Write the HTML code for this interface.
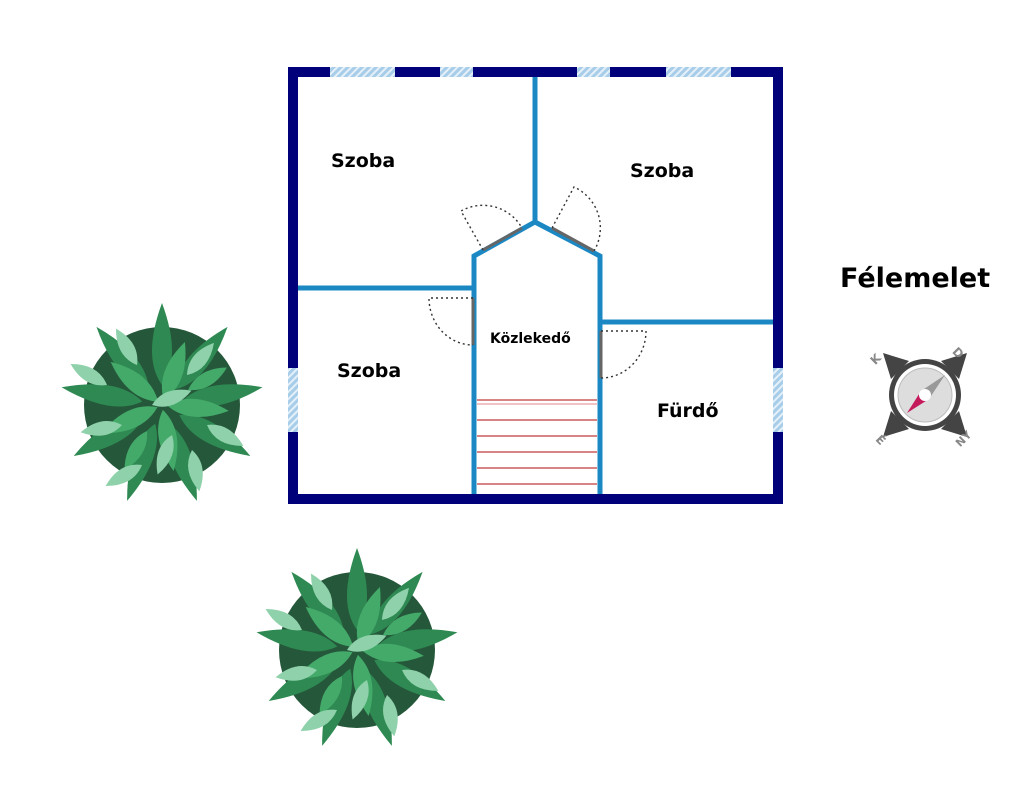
<!DOCTYPE html>
<html><head><meta charset="utf-8"><style>
html,body{margin:0;padding:0;background:#fff}
svg{display:block}
text{font-family:"DejaVu Sans","Liberation Sans",sans-serif;font-weight:bold;fill:#000}
</style></head><body>
<svg width="1024" height="797" viewBox="0 0 1024 797" xmlns="http://www.w3.org/2000/svg">
<defs>
<pattern id="h" width="5" height="5" patternUnits="userSpaceOnUse" patternTransform="rotate(45)">
<rect width="5" height="5" fill="#a8cde8"/><rect width="2" height="5" fill="#e4f0fa"/>
</pattern>
</defs>

<rect x="293" y="72" width="485" height="427" fill="none" stroke="#00007a" stroke-width="10"/>
<rect x="330" y="67" width="65" height="10" fill="url(#h)"/>
<rect x="440" y="67" width="33" height="10" fill="url(#h)"/>
<rect x="577" y="67" width="33" height="10" fill="url(#h)"/>
<rect x="666" y="67" width="65" height="10" fill="url(#h)"/>
<rect x="288" y="368" width="10" height="64" fill="url(#h)"/>
<rect x="773" y="368" width="10" height="64" fill="url(#h)"/>

<g stroke="#c0393b" stroke-width="1.2">
<line x1="477" y1="400" x2="597" y2="400"/><line x1="477" y1="404" x2="597" y2="404" stroke="#e8a0a0"/>
<line x1="477" y1="420" x2="597" y2="420"/><line x1="477" y1="436" x2="597" y2="436"/>
<line x1="477" y1="452" x2="597" y2="452"/><line x1="477" y1="468" x2="597" y2="468"/>
<line x1="477" y1="484" x2="597" y2="484"/>
</g>

<g stroke="#1b88c4" stroke-width="5" fill="none">
<line x1="535" y1="77" x2="535" y2="222"/>
<polyline points="474,494 474,256 535,222 600,256 600,494"/>
<line x1="298" y1="288" x2="474" y2="288"/>
<line x1="600" y1="322" x2="773" y2="322"/>
</g>

<g stroke="#666" stroke-width="3">
<line x1="483" y1="250" x2="522" y2="228"/>
<line x1="552" y1="228" x2="594" y2="251"/>
<line x1="473" y1="298" x2="473" y2="345"/>
<line x1="601" y1="331" x2="601" y2="378"/>
</g>
<g stroke="#333" stroke-width="1.4" fill="none" stroke-dasharray="2,3">
<path d="M483,250 L461,211 A45,45 0 0 1 522,228"/>
<path d="M552,228 L574,187 A45,45 0 0 1 594,251"/>
<path d="M473,298 L429,298 A44,47 0 0 0 473,345"/>
<path d="M601,331 L646,331 A45,47 0 0 1 601,378"/>
</g>

<text x="331" y="167" font-size="19">Szoba</text>
<text x="630" y="177" font-size="19">Szoba</text>
<text x="337" y="377" font-size="19">Szoba</text>
<text x="657" y="417" font-size="19">Fürdő</text>
<text x="490" y="343" font-size="14">Közlekedő</text>
<text x="840" y="287" font-size="27">Félemelet</text>

<g transform="translate(925,395)">
<g fill="#444">
<path d="M-42,-42 L-16,-34 L-34,-16Z"/>
<path d="M42,-42 L34,-16 L16,-34Z"/>
<path d="M42,42 L16,34 L34,16Z"/>
<path d="M-42,42 L-34,16 L-16,34Z"/>
</g>
<circle r="36" fill="#444"/>
<circle r="31" fill="#fff"/>
<circle r="27" fill="#ddd" stroke="#bbb" stroke-width="1"/>
<polygon points="20,-20 5,-5 -5,5" fill="#999" transform="rotate(0)"/>
<polygon points="20,-20 -4,-4 4,4" fill="#999"/>
<polygon points="-18,18 -4,-4 4,4" fill="#c4195a"/>
<circle r="6" fill="#fff"/>
<text x="-54" y="-32" font-size="12" style="fill:#888" transform="rotate(-45,-49,-36)">K</text>
<text x="28" y="-38" font-size="12" style="fill:#888" transform="rotate(45,33,-42)">D</text>
<text x="30" y="48" font-size="11" style="fill:#888" transform="rotate(-45,38,44)">NY</text>
<text x="-48" y="50" font-size="12" style="fill:#888" transform="rotate(45,-43,45)">É</text>
</g>

<g id="t1" transform="translate(162,405)">
<circle r="78" fill="#25583a"/>
<g fill="#2e8a52">
<path transform="rotate(0) translate(0,-20)" d="M0,0 Q-20,-28 0,-82 Q20,-28 0,0Z"/>
<path transform="rotate(40) translate(0,-20)" d="M0,0 Q-20,-28 0,-82 Q20,-28 0,0Z"/>
<path transform="rotate(80) translate(0,-20)" d="M0,0 Q-20,-28 0,-82 Q20,-28 0,0Z"/>
<path transform="rotate(120) translate(0,-20)" d="M0,0 Q-20,-28 0,-82 Q20,-28 0,0Z"/>
<path transform="rotate(160) translate(0,-20)" d="M0,0 Q-20,-28 0,-82 Q20,-28 0,0Z"/>
<path transform="rotate(200) translate(0,-20)" d="M0,0 Q-20,-28 0,-82 Q20,-28 0,0Z"/>
<path transform="rotate(240) translate(0,-20)" d="M0,0 Q-20,-28 0,-82 Q20,-28 0,0Z"/>
<path transform="rotate(280) translate(0,-20)" d="M0,0 Q-20,-28 0,-82 Q20,-28 0,0Z"/>
<path transform="rotate(320) translate(0,-20)" d="M0,0 Q-20,-28 0,-82 Q20,-28 0,0Z"/>
</g>
<g fill="#44aa6a">
<path transform="rotate(20) translate(0,-5)" d="M0,0 Q-18,-25 0,-62 Q18,-25 0,0Z"/>
<path transform="rotate(95) translate(0,-5)" d="M0,0 Q-18,-25 0,-62 Q18,-25 0,0Z"/>
<path transform="rotate(170) translate(0,-5)" d="M0,0 Q-18,-25 0,-62 Q18,-25 0,0Z"/>
<path transform="rotate(245) translate(0,-5)" d="M0,0 Q-18,-25 0,-62 Q18,-25 0,0Z"/>
<path transform="rotate(310) translate(0,-5)" d="M0,0 Q-18,-25 0,-62 Q18,-25 0,0Z"/>
<path transform="rotate(60) translate(0,-30)" d="M0,0 Q-14,-20 0,-45 Q14,-20 0,0Z"/>
<path transform="rotate(210) translate(0,-30)" d="M0,0 Q-14,-20 0,-45 Q14,-20 0,0Z"/>
</g>
<g fill="#8fd1aa">
<path transform="translate(-25,-40) rotate(-30)" d="M0,0 Q-14,-18 0,-42 Q14,-18 0,0Z"/>
<path transform="translate(25,-30) rotate(40)" d="M0,0 Q-14,-18 0,-42 Q14,-18 0,0Z"/>
<path transform="translate(-40,20) rotate(-100)" d="M0,0 Q-14,-18 0,-42 Q14,-18 0,0Z"/>
<path transform="translate(10,30) rotate(200)" d="M0,0 Q-14,-18 0,-42 Q14,-18 0,0Z"/>
<path transform="translate(45,20) rotate(120)" d="M0,0 Q-14,-18 0,-42 Q14,-18 0,0Z"/>
<path transform="translate(-10,0) rotate(70)" d="M0,0 Q-14,-18 0,-42 Q14,-18 0,0Z"/>
<path transform="translate(-55,-20) rotate(-60)" d="M0,0 Q-14,-18 0,-42 Q14,-18 0,0Z"/>
<path transform="translate(-20,60) rotate(240)" d="M0,0 Q-14,-18 0,-42 Q14,-18 0,0Z"/>
<path transform="translate(30,45) rotate(170)" d="M0,0 Q-14,-18 0,-42 Q14,-18 0,0Z"/>
</g>
</g>
<use href="#t1" transform="translate(195,245)"/>
</svg>
</body></html>
